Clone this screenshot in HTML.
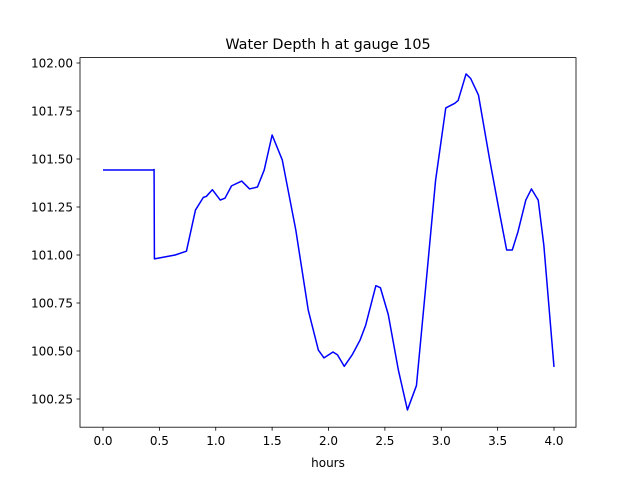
<!DOCTYPE html>
<html><head><meta charset="utf-8"><style>
body{margin:0;background:#fff;font-family:"Liberation Sans","DejaVu Sans",sans-serif}
svg text{font-family:"DejaVu Sans","Liberation Sans",sans-serif;font-size:12px;fill:#000}
</style></head><body>
<svg id="chart" width="640" height="480" xmlns="http://www.w3.org/2000/svg">
<rect width="640" height="480" fill="#fff"/>
<text x="328" y="49" text-anchor="middle" style="font-size:14.4px">Water Depth h at gauge 105</text>
<g id="ticks"></g>
<polyline id="line" fill="none" stroke="#0000ff" stroke-width="1.5" stroke-linejoin="round"/>
<rect x="80" y="57.6" width="496" height="369.6" fill="none" stroke="#000" stroke-width="0.8"/>
<text x="328" y="467" text-anchor="middle">hours</text>
</svg>
<script>
const hours=[0,0.443,0.453,0.456,0.64,0.74,0.82,0.89,0.916,0.97,1.04,1.082,1.14,1.23,1.30,1.37,1.43,1.50,1.59,1.71,1.82,1.91,1.96,2.04,2.08,2.14,2.21,2.28,2.33,2.42,2.46,2.53,2.62,2.70,2.78,2.86,2.95,3.04,3.12,3.15,3.22,3.26,3.33,3.43,3.52,3.58,3.63,3.68,3.75,3.80,3.86,3.91,4.0];
const depth=[101.443,101.443,101.445,100.98,101.0,101.02,101.234,101.30,101.305,101.34,101.286,101.296,101.36,101.385,101.344,101.354,101.443,101.625,101.495,101.13,100.714,100.505,100.464,100.495,100.48,100.42,100.48,100.557,100.635,100.84,100.83,100.69,100.40,100.193,100.32,100.82,101.39,101.766,101.79,101.805,101.943,101.92,101.833,101.495,101.21,101.026,101.026,101.12,101.286,101.344,101.286,101.05,100.417];
const xTicks=[0,0.5,1,1.5,2,2.5,3,3.5,4];
const yTicks=[100.25,100.5,100.75,101,101.25,101.5,101.75,102];
const X=t=>103+(t-0)*112.75;
const Y=v=>63+(102-v)*192;
document.getElementById('line').setAttribute('points',hours.map((t,i)=>X(t)+','+Y(depth[i])).join(' '));
const g=document.getElementById('ticks');const NS='http://www.w3.org/2000/svg';
xTicks.forEach(t=>{
 const l=document.createElementNS(NS,'line');
 
 
 l.setAttribute('x1',X(t));l.setAttribute('x2',X(t));l.setAttribute('y1',427.2);l.setAttribute('y2',430.7);l.setAttribute('stroke','#000');l.setAttribute('stroke-width','0.8');g.appendChild(l);
 const s=document.createElementNS(NS,'text');
 
 
 s.setAttribute('x',X(t));s.setAttribute('y',445);s.setAttribute('text-anchor','middle');s.textContent=t.toFixed(1);g.appendChild(s);
});
yTicks.forEach(v=>{
 const l=document.createElementNS(NS,'line');
 
 
 l.setAttribute('x1',76.5);l.setAttribute('x2',80);l.setAttribute('y1',Y(v));l.setAttribute('y2',Y(v));l.setAttribute('stroke','#000');l.setAttribute('stroke-width','0.8');g.appendChild(l);
 const s=document.createElementNS(NS,'text');
 
 
 s.setAttribute('x',73);s.setAttribute('y',Y(v)+4.5);s.setAttribute('text-anchor','end');s.textContent=v.toFixed(2);g.appendChild(s);
});
</script>
</body></html>
